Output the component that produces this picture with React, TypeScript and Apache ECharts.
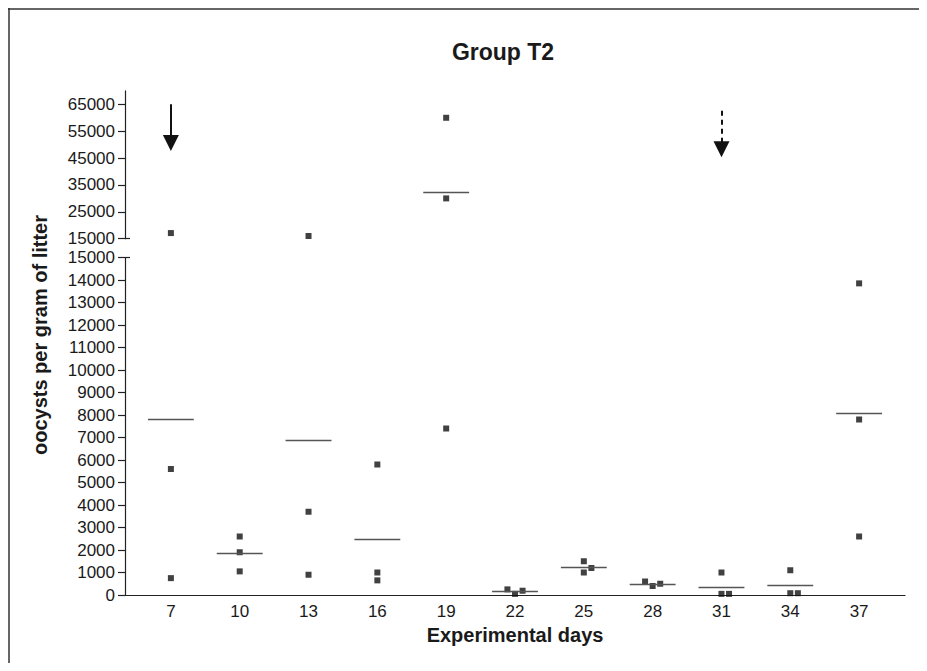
import React, { useEffect, useRef } from "react";
import * as echarts from "echarts";

const days = [7, 10, 13, 16, 19, 22, 25, 28, 31, 34, 37];
const values = [
  [17100, 5600, 750],
  [2600, 1900, 1050],
  [16000, 3700, 900],
  [5800, 1000, 650],
  [60000, 30000, 7400],
  [250, 50, 190],
  [1500, 1000, 1200],
  [600, 400, 500],
  [1000, 50, 50],
  [1100, 80, 80],
  [13850, 7800, 2600],
];
// horizontal jitter of each point, in days
const jitter = [
  [0, 0, 0],
  [0, 0, 0],
  [0, 0, 0],
  [0, 0, 0],
  [0, 0, 0],
  [-0.33, 0, 0.33],
  [0, 0, 0.33],
  [-0.33, 0, 0.33],
  [0, 0, 0.33],
  [0, 0, 0.33],
  [0, 0, 0],
];
const upperTicks = [15000, 25000, 35000, 45000, 55000, 65000];
const BREAK = 15000;
const UPPER_MAX = 70000;
// arrows: [day, start value, end value, dashed]
const arrows: [number, number, number, boolean][] = [
  [7, 65000, 50600, false],
  [31, 62600, 48300, true],
];

const FONT = "'Liberation Sans', Arial, Helvetica, sans-serif";
const TXT = "#1a1a1a";
const AX = "#222";

export default function App() {
  const ref = useRef<HTMLDivElement>(null);
  useEffect(() => {
    if (!ref.current) return;
    const chart = echarts.init(ref.current, undefined, { renderer: "svg" });

    const points: number[][] = [];
    days.forEach((d, i) => values[i].forEach((v, j) => points.push([d + jitter[i][j], v])));
    const means = days.map((d, i) => [d, values[i].reduce((a, b) => a + b, 0) / values[i].length]);

    const meanLines = (upper: boolean) =>
      means
        .filter(([, m]) => (upper ? m > BREAK : m <= BREAK))
        .map(([d, m]) => [{ coord: [d - 1, m] }, { coord: [d + 1, m] }]);

    const xBase = {
      type: "value",
      min: 5,
      max: 39,
      splitLine: { show: false },
      axisTick: { show: false },
    };
    const yLabel = {
      fontFamily: FONT,
      fontSize: 17,
      color: TXT,
      margin: 10,
      formatter: (v: number) => String(v),
    };
    const breakTick = (gridIndex: number, min: number, max: number) => ({
      type: "value",
      gridIndex,
      position: "left",
      min,
      max,
      splitLine: { show: false },
      axisLine: { show: false },
      axisTick: { show: true, inside: true, length: 5, customValues: [BREAK], lineStyle: { color: AX, width: 1.2 } },
      axisLabel: { show: false },
    });

    chart.setOption({
      animation: false,
      textStyle: { fontFamily: FONT },
      graphic: [
        { type: "line", shape: { x1: 0, y1: 1, x2: 911, y2: 1 }, style: { stroke: "#333", lineWidth: 1.5 } },
        { type: "line", shape: { x1: 1, y1: 0, x2: 1, y2: 655 }, style: { stroke: "#333", lineWidth: 1.5 } },
        {
          type: "text",
          x: 495,
          y: 44,
          style: {
            text: "Group T2",
            fontFamily: FONT,
            fontSize: 23,
            fontWeight: "bold",
            fill: TXT,
            textAlign: "center",
            textVerticalAlign: "middle",
          },
        },
        {
          type: "text",
          x: 32,
          y: 327,
          rotation: Math.PI / 2,
          style: {
            text: "oocysts per gram of litter",
            fontFamily: FONT,
            fontSize: 20,
            fontWeight: "bold",
            fill: TXT,
            textAlign: "center",
            textVerticalAlign: "middle",
          },
        },
      ],
      grid: [
        { left: 117, width: 780, top: 82.9, height: 147.8 },
        { left: 117, width: 780, top: 249.5, height: 337.5 },
      ],
      xAxis: [
        {
          ...xBase,
          gridIndex: 0,
          axisLine: { show: false },
          axisLabel: { show: false },
        },
        {
          ...xBase,
          gridIndex: 1,
          axisLine: { show: true, lineStyle: { color: AX, width: 1.2 } },
          axisLabel: { customValues: days, fontFamily: FONT, fontSize: 17, color: TXT, margin: 8 },
          name: "Experimental days",
          nameLocation: "middle",
          nameGap: 21,
          nameTextStyle: {
            fontFamily: FONT,
            fontSize: 20,
            fontWeight: "bold",
            color: TXT,
            verticalAlign: "top",
          },
        },
      ],
      yAxis: [
        {
          type: "value",
          gridIndex: 0,
          position: "left",
          min: BREAK,
          max: UPPER_MAX,
          splitLine: { show: false },
          axisLine: { show: true, lineStyle: { color: AX, width: 1.2 } },
          axisTick: { show: true, length: 7, customValues: upperTicks, lineStyle: { color: AX, width: 1.2 } },
          axisLabel: { ...yLabel, customValues: upperTicks },
        },
        {
          type: "value",
          gridIndex: 1,
          position: "left",
          min: 0,
          max: BREAK,
          interval: 1000,
          splitLine: { show: false },
          axisLine: { show: true, lineStyle: { color: AX, width: 1.2 } },
          axisTick: { show: true, length: 7, lineStyle: { color: AX, width: 1.2 } },
          axisLabel: { ...yLabel },
        },
        breakTick(0, BREAK, UPPER_MAX),
        breakTick(1, 0, BREAK),
      ],
      series: [
        {
          type: "scatter",
          xAxisIndex: 0,
          yAxisIndex: 0,
          symbol: "rect",
          symbolSize: 6,
          itemStyle: { color: "#111" },
          silent: true,
          data: points.filter((p) => p[1] > BREAK),
          markLine: {
            silent: true,
            symbol: ["none", "none"],
            label: { show: false },
            lineStyle: { color: "#555", width: 1.3, type: "solid" },
            data: meanLines(true),
          },
        },
        {
          type: "scatter",
          xAxisIndex: 1,
          yAxisIndex: 1,
          symbol: "rect",
          symbolSize: 6,
          itemStyle: { color: "#111" },
          silent: true,
          data: points.filter((p) => p[1] <= BREAK),
          markLine: {
            silent: true,
            symbol: ["none", "none"],
            label: { show: false },
            lineStyle: { color: "#555", width: 1.3, type: "solid" },
            data: meanLines(false),
          },
        },
        ...arrows.map(([d, s, e, dashed]) => ({
          type: "scatter",
          xAxisIndex: 0,
          yAxisIndex: 0,
          data: [],
          silent: true,
          markLine: {
            silent: true,
            symbol: ["none", "triangle"],
            symbolSize: 16,
            label: { show: false },
            itemStyle: { color: "#111" },
            lineStyle: {
              color: "#111",
              width: 2,
              type: dashed ? [5, 4] : "solid",
            },
            data: [[{ coord: [d, s] }, { coord: [d, e] }]],
          },
        })),
      ],
    });
    return () => chart.dispose();
  }, []);
  return <div ref={ref} style={{ width: 911, height: 655 }} />;
}
